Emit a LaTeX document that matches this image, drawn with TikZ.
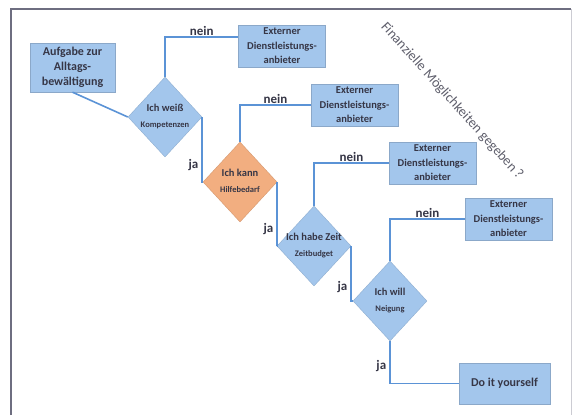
\documentclass[tikz,border=0pt]{standalone}
\usepackage{fontspec}
\setmainfont{Carlito}
\usetikzlibrary{shapes.geometric,positioning}
\definecolor{Fill}{HTML}{A3C6EC}
\definecolor{Wire}{HTML}{5B93D6}
\definecolor{Peach}{HTML}{F2AE80}
\definecolor{Ink}{HTML}{363646}
\definecolor{Frame}{HTML}{6E6E80}

\newcommand{\dlab}[2]{\makebox[0pt]{\begin{tabular}{@{}c@{}}#1\\[3pt]{\fontsize{8.5}{9}\selectfont #2}\end{tabular}}}

\begin{document}
\begin{tikzpicture}[x=1pt,y=-1pt,
    box/.style={draw=Fill!85!black,fill=Fill,inner sep=0pt,align=center,
      text=Ink,font=\fontsize{10.5}{14.5}\selectfont\bfseries},
    dia/.style={diamond,inner sep=0pt,minimum width=74pt,minimum height=80pt,
      text=Ink,font=\fontsize{10.5}{13}\selectfont\bfseries},
    wire/.style={Wire,line width=1.6pt},
    tag/.style={text=Ink,font=\fontsize{13}{14}\selectfont\bfseries,inner sep=1pt}
  ]
    \useasboundingbox (0,0) rectangle (572,415);
    \draw[Frame,line width=1.2pt] (11,415) -- (11,9) -- (571,9);
    \draw[Frame!35,line width=0.8pt] (571,9) -- (571,415);

    \node[box,minimum width=85pt,minimum height=49pt,
      font=\fontsize{12}{15}\selectfont\bfseries] (auf) at (72.5,67.5)
      {Aufgabe zur\\Alltags-\\bewältigung};
    \foreach \n/\x/\y/\a/\b/\col in {1/165/117/Ich weiß/Kompetenzen/Fill,
        2/240/182/Ich kann/Hilfebedarf/Peach,3/314/246/Ich habe Zeit/Zeitbudget/Fill,
        4/390/301/Ich will/Neigung/Fill}{
      \node[dia,fill=\col,draw=\col!88!black] (d\n) at (\x,\y) {\dlab{\a}{\b}};
    }
    \foreach \n/\x/\y in {1/282/46,2/354.5/105,3/432.5/163,4/508.5/219}{
      \node[box,minimum width=87pt,minimum height=42pt] (ext\n) at (\x,\y)
        {Externer\\Dienstleistungs-\\anbieter};
    }
    \node[box,minimum width=91pt,minimum height=41pt,
      font=\fontsize{12}{15}\selectfont\bfseries] (diy) at (504.5,383.5) {Do it yourself};

    \draw[wire] (auf.south) -- (d1.west);
    \draw[wire] (d1.north) |- ([yshift=9pt]ext1.west) node[tag,pos=0.75,above]{nein};
    \foreach \n in {2,3,4}
      \draw[wire] (d\n.north) |- (ext\n.west) node[tag,pos=0.75,above]{nein};
    \foreach \i/\j in {1/2,2/3,3/4}
      \draw[wire] (d\i.east) |- (d\j.west) node[tag,pos=0.37,left=2pt]{ja};
    \draw[wire] (d4.south) |- (diy.west) node[tag,pos=0.29,left=2pt]{ja};

    \node[text=Ink!80,font=\fontsize{14}{16}\selectfont,rotate=-48] (fin)
      at (452,101) {Finanzielle Möglichkeiten gegeben ?};
  \end{tikzpicture}
\end{document}
